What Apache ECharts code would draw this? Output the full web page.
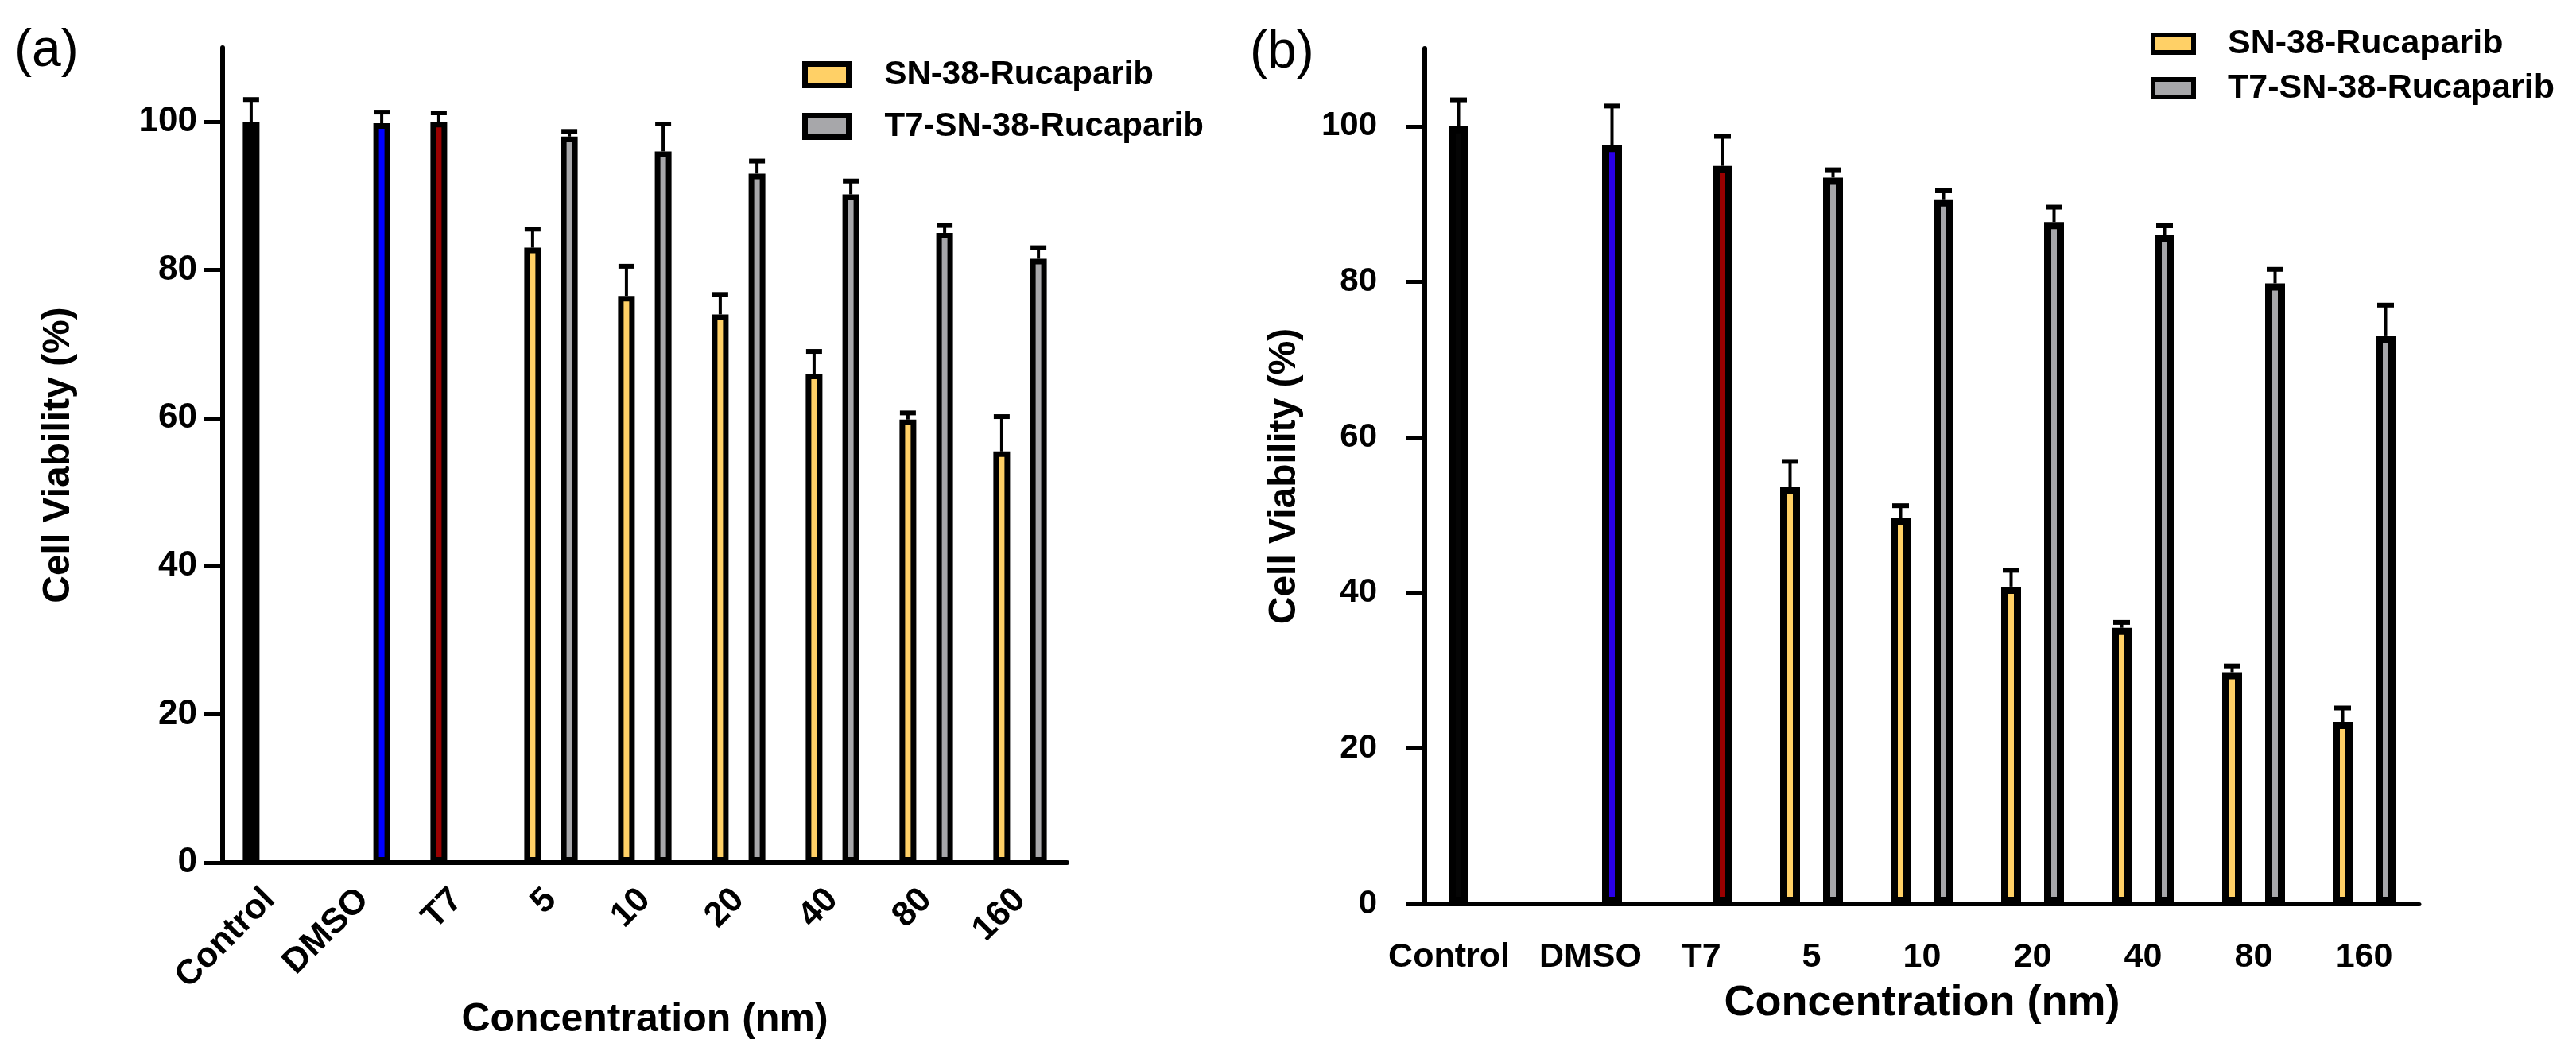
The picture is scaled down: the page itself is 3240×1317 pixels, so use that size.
<!DOCTYPE html>
<html lang="en">
<head>
    <meta charset="UTF-8">
    <title>Cell viability</title>
    <script src="https://cdn.jsdelivr.net/npm/echarts@6/dist/echarts.min.js"></script>
    <style>
        html, body { margin: 0; padding: 0; background: #fff; }
        #chart { width: 3240px; height: 1317px; }
    </style>
</head>
<body>
<div id="chart"></div>
<script>
    // categories on the x axis
    var categories = ['Control', 'DMSO', 'T7', '5', '10', '20', '40', '80', '160'];
    var yTicks = [0, 20, 40, 60, 80, 100];

    // panel (a)
    var aCtrl = [100, 99.8, 100];
    var aCtrlErr = [3.0, 1.5, 1.2];
    var aSN = [83, 76.5, 74, 66, 59.8, 55.5];
    var aSNErr = [2.5, 4.0, 2.7, 3.0, 0.9, 4.7];
    var aT7SN = [98, 96, 93, 90.2, 85, 81.5];
    var aT7SNErr = [0.7, 3.7, 1.7, 1.8, 1.0, 1.5];

    // panel (b)
    var bCtrl = [100, 97.6, 94.9];
    var bCtrlErr = [3.4, 5.0, 3.8];
    var bSN = [53.6, 49.6, 40.8, 35.5, 29.8, 23.4];
    var bSNErr = [3.3, 1.6, 2.1, 0.7, 0.8, 1.8];
    var bT7SN = [93.4, 90.6, 87.7, 86, 79.8, 73];
    var bT7SNErr = [1.0, 1.1, 1.9, 1.2, 1.8, 4.0];

    var FONT = '"Liberation Sans", Arial, sans-serif';
    var YELLOW = '#ffd066';
    var GRAY = '#a7a7aa';

    // side: -1 = left slot of the category, 1 = right slot
    function buildPanel(ctrl, ctrlErr, side, ctrlColors, sn, snErr, t7, t7Err) {
        var left = [], right = [], err = [];
        for (var i = 0; i < 3; i++) {
            var item = {value: ctrl[i], itemStyle: {color: ctrlColors[i]}};
            left.push(side[i] < 0 ? item : '-');
            right.push(side[i] > 0 ? item : '-');
            err.push([i, ctrl[i], ctrlErr[i], side[i]]);
        }
        for (var j = 0; j < sn.length; j++) {
            left.push(sn[j]);
            right.push(t7[j]);
            err.push([3 + j, sn[j], snErr[j], -1]);
            err.push([3 + j, t7[j], t7Err[j], 1]);
        }
        return {left: left, right: right, err: err};
    }

    var pa = buildPanel(aCtrl, aCtrlErr, [-1, 1, -1], ['#000000', '#0000ff', '#990000'], aSN, aSNErr, aT7SN, aT7SNErr);
    var pb = buildPanel(bCtrl, bCtrlErr, [-1, 1, 1], ['#050505', '#2a00e8', '#990000'], bSN, bSNErr, bT7SN, bT7SNErr);

    function errRender(offset, capW) {
        return function (params, api) {
            var x = api.value(0), v = api.value(1), e = api.value(2), s = api.value(3);
            var p0 = api.coord([x, v]);
            var p1 = api.coord([x, v + e]);
            var cx = p0[0] + s * offset;
            return {
                type: 'group',
                children: [
                    {type: 'line', shape: {x1: cx, y1: p0[1], x2: cx, y2: p1[1]},
                        style: {stroke: '#000', lineWidth: 4}},
                    {type: 'line', shape: {x1: cx - capW / 2, y1: p1[1], x2: cx + capW / 2, y2: p1[1]},
                        style: {stroke: '#000', lineWidth: 6}}
                ]
            };
        };
    }

    function yAxisCfg(grid, fs, margin, gap) {
        return {
            type: 'value', gridIndex: grid, min: 0, max: 110, interval: 20,
            axisLine: {show: true, lineStyle: {color: '#000', width: 6}},
            axisTick: {show: true, length: 23, lineStyle: {color: '#000', width: 5}, customValues: yTicks},
            axisLabel: {color: '#000', fontSize: fs, fontWeight: 'bold', fontFamily: FONT, margin: margin, customValues: yTicks},
            splitLine: {show: false},
            name: 'Cell Viability (%)', nameLocation: 'middle', nameGap: gap,
            nameTextStyle: {color: '#000', fontSize: 48, fontWeight: 'bold', fontFamily: FONT}
        };
    }

    function legendCfg(name, left, top, w, h, bw, pad, fs) {
        return {
            data: [name], left: left, top: top, padding: 0, icon: 'rect',
            itemWidth: w, itemHeight: h, selectedMode: false,
            itemStyle: {borderColor: '#000', borderWidth: bw},
            textStyle: {color: '#000', fontSize: fs, fontWeight: 'bold', fontFamily: FONT, lineHeight: 50, padding: [0, 0, 0, pad]}
        };
    }

    var chart = echarts.init(document.getElementById('chart'));
    chart.setOption({
        backgroundColor: '#fff',
        animation: false,
        title: [
            {text: '(a)', left: 18, top: 32, padding: 0, textStyle: {color: '#000', fontSize: 66, fontWeight: 'normal', fontFamily: FONT}},
            {text: '(b)', left: 1572, top: 34, padding: 0, textStyle: {color: '#000', fontSize: 66, fontWeight: 'normal', fontFamily: FONT}}
        ],
        legend: [
            legendCfg('SN-38-Rucaparib', 1009, 69, 55, 27, 7, 40, 42),
            legendCfg('T7-SN-38-Rucaparib', 1009, 134, 55, 27, 7, 40, 42),
            legendCfg('SN-38-Rucaparib', 2705, 30, 51, 22, 6, 38, 43),
            legendCfg('T7-SN-38-Rucaparib', 2705, 86, 51, 22, 6, 38, 43)
        ],
        grid: [
            {left: 280, top: 60, width: 1062, height: 1025},
            {left: 1792, top: 61, width: 1251, height: 1076}
        ],
        xAxis: [
            {
                type: 'category', gridIndex: 0, data: categories,
                axisLine: {lineStyle: {color: '#000', width: 6}},
                axisTick: {alignWithLabel: true, length: 22, lineStyle: {color: '#000', width: 5}},
                axisLabel: {interval: 0, rotate: 45, color: '#000', fontSize: 44, fontWeight: 'bold', fontFamily: FONT, margin: 40},
                name: 'Concentration (nm)', nameLocation: 'middle', nameGap: 150,
                nameTextStyle: {color: '#000', fontSize: 50, fontWeight: 'bold', fontFamily: FONT}
            },
            {
                type: 'category', gridIndex: 1, data: categories,
                axisLine: {lineStyle: {color: '#000', width: 5}},
                axisTick: {alignWithLabel: true, length: 20, lineStyle: {color: '#000', width: 5}},
                axisLabel: {
                    interval: 0, color: '#000', fontSize: 43, fontWeight: 'bold', fontFamily: FONT, margin: 46,
                    // the Control label sits left of its tick in the original
                    formatter: function (v) { return v === 'Control' ? '{s|' + v + '}' : v; },
                    rich: {s: {fontSize: 43, fontWeight: 'bold', fontFamily: FONT, color: '#000', padding: [0, 78, 0, 0]}}
                },
                name: 'Concentration (nm)', nameLocation: 'middle', nameGap: 98,
                nameTextStyle: {color: '#000', fontSize: 54, fontWeight: 'bold', fontFamily: FONT}
            }
        ],
        yAxis: [
            yAxisCfg(0, 44, 32, 182),
            yAxisCfg(1, 42, 60, 152)
        ],
        series: [
            {
                name: 'SN-38-Rucaparib', type: 'bar', xAxisIndex: 0, yAxisIndex: 0,
                barWidth: 21, barGap: '120%', data: pa.left,
                itemStyle: {color: YELLOW, borderColor: '#000', borderWidth: 7}
            },
            {
                name: 'T7-SN-38-Rucaparib', type: 'bar', xAxisIndex: 0, yAxisIndex: 0,
                barWidth: 21, barGap: '120%', data: pa.right,
                itemStyle: {color: GRAY, borderColor: '#000', borderWidth: 7}
            },
            {
                name: 'errA', type: 'custom', xAxisIndex: 0, yAxisIndex: 0, z: 5,
                renderItem: errRender(23.1, 20), data: pa.err
            },
            {
                name: 'SN-38-Rucaparib', type: 'bar', xAxisIndex: 1, yAxisIndex: 1,
                barWidth: 25, barGap: '116%', data: pb.left,
                itemStyle: {color: YELLOW, borderColor: '#000', borderWidth: 9}
            },
            {
                name: 'T7-SN-38-Rucaparib', type: 'bar', xAxisIndex: 1, yAxisIndex: 1,
                barWidth: 25, barGap: '116%', data: pb.right,
                itemStyle: {color: GRAY, borderColor: '#000', borderWidth: 9}
            },
            {
                name: 'errB', type: 'custom', xAxisIndex: 1, yAxisIndex: 1, z: 5,
                renderItem: errRender(27, 21), data: pb.err
            }
        ]
    });
</script>
</body>
</html>
